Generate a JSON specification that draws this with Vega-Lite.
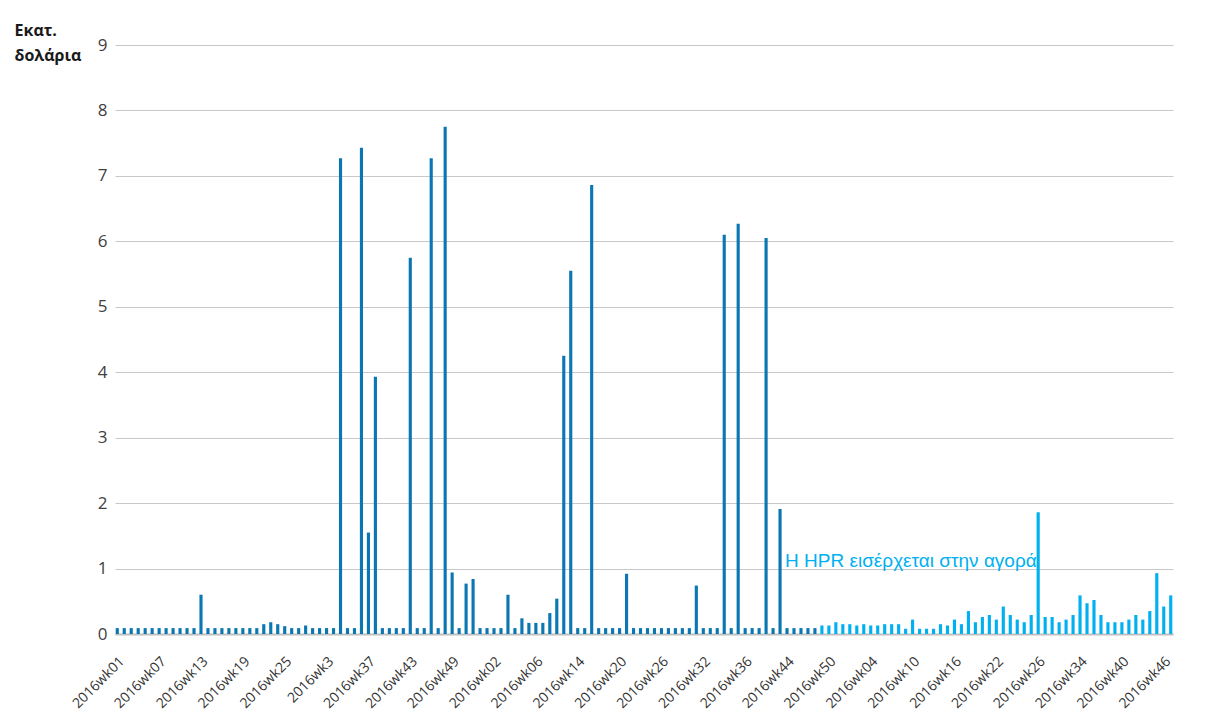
{
  "$schema": "https://vega.github.io/schema/vega-lite/v6.json",
  "width": 1058,
  "height": 589,
  "autosize": {"type": "none"},
  "padding": {"left": 115, "top": 45, "right": 39, "bottom": 86},
  "background": "white",
  "config": {"view": {"stroke": null}, "font": "Open Sans"},
  "data": {"values": [
    {"i":0,"v":0.09,"p":"a"},{"i":1,"v":0.09,"p":"a"},{"i":2,"v":0.09,"p":"a"},{"i":3,"v":0.09,"p":"a"},{"i":4,"v":0.09,"p":"a"},{"i":5,"v":0.09,"p":"a"},
    {"i":6,"v":0.09,"p":"a"},{"i":7,"v":0.09,"p":"a"},{"i":8,"v":0.09,"p":"a"},{"i":9,"v":0.09,"p":"a"},{"i":10,"v":0.09,"p":"a"},{"i":11,"v":0.09,"p":"a"},
    {"i":12,"v":0.6,"p":"a"},{"i":13,"v":0.09,"p":"a"},{"i":14,"v":0.09,"p":"a"},{"i":15,"v":0.09,"p":"a"},{"i":16,"v":0.09,"p":"a"},{"i":17,"v":0.09,"p":"a"},
    {"i":18,"v":0.09,"p":"a"},{"i":19,"v":0.09,"p":"a"},{"i":20,"v":0.09,"p":"a"},{"i":21,"v":0.15,"p":"a"},{"i":22,"v":0.18,"p":"a"},{"i":23,"v":0.15,"p":"a"},
    {"i":24,"v":0.12,"p":"a"},{"i":25,"v":0.09,"p":"a"},{"i":26,"v":0.09,"p":"a"},{"i":27,"v":0.13,"p":"a"},{"i":28,"v":0.09,"p":"a"},{"i":29,"v":0.09,"p":"a"},
    {"i":30,"v":0.09,"p":"a"},{"i":31,"v":0.09,"p":"a"},{"i":32,"v":7.27,"p":"a"},{"i":33,"v":0.09,"p":"a"},{"i":34,"v":0.09,"p":"a"},{"i":35,"v":7.43,"p":"a"},
    {"i":36,"v":1.55,"p":"a"},{"i":37,"v":3.93,"p":"a"},{"i":38,"v":0.09,"p":"a"},{"i":39,"v":0.09,"p":"a"},{"i":40,"v":0.09,"p":"a"},{"i":41,"v":0.09,"p":"a"},
    {"i":42,"v":5.75,"p":"a"},{"i":43,"v":0.09,"p":"a"},{"i":44,"v":0.09,"p":"a"},{"i":45,"v":7.27,"p":"a"},{"i":46,"v":0.09,"p":"a"},{"i":47,"v":7.75,"p":"a"},
    {"i":48,"v":0.94,"p":"a"},{"i":49,"v":0.09,"p":"a"},{"i":50,"v":0.77,"p":"a"},{"i":51,"v":0.84,"p":"a"},{"i":52,"v":0.09,"p":"a"},{"i":53,"v":0.09,"p":"a"},
    {"i":54,"v":0.09,"p":"a"},{"i":55,"v":0.09,"p":"a"},{"i":56,"v":0.6,"p":"a"},{"i":57,"v":0.09,"p":"a"},{"i":58,"v":0.24,"p":"a"},{"i":59,"v":0.17,"p":"a"},
    {"i":60,"v":0.17,"p":"a"},{"i":61,"v":0.17,"p":"a"},{"i":62,"v":0.32,"p":"a"},{"i":63,"v":0.54,"p":"a"},{"i":64,"v":4.25,"p":"a"},{"i":65,"v":5.55,"p":"a"},
    {"i":66,"v":0.09,"p":"a"},{"i":67,"v":0.09,"p":"a"},{"i":68,"v":6.86,"p":"a"},{"i":69,"v":0.09,"p":"a"},{"i":70,"v":0.09,"p":"a"},{"i":71,"v":0.09,"p":"a"},
    {"i":72,"v":0.09,"p":"a"},{"i":73,"v":0.92,"p":"a"},{"i":74,"v":0.09,"p":"a"},{"i":75,"v":0.09,"p":"a"},{"i":76,"v":0.09,"p":"a"},{"i":77,"v":0.09,"p":"a"},
    {"i":78,"v":0.09,"p":"a"},{"i":79,"v":0.09,"p":"a"},{"i":80,"v":0.09,"p":"a"},{"i":81,"v":0.09,"p":"a"},{"i":82,"v":0.09,"p":"a"},{"i":83,"v":0.74,"p":"a"},
    {"i":84,"v":0.09,"p":"a"},{"i":85,"v":0.09,"p":"a"},{"i":86,"v":0.09,"p":"a"},{"i":87,"v":6.1,"p":"a"},{"i":88,"v":0.09,"p":"a"},{"i":89,"v":6.27,"p":"a"},
    {"i":90,"v":0.09,"p":"a"},{"i":91,"v":0.09,"p":"a"},{"i":92,"v":0.09,"p":"a"},{"i":93,"v":6.05,"p":"a"},{"i":94,"v":0.09,"p":"a"},{"i":95,"v":1.91,"p":"a","t":"Η HPR εισέρχεται στην αγορά"},
    {"i":96,"v":0.09,"p":"a"},{"i":97,"v":0.09,"p":"a"},{"i":98,"v":0.09,"p":"a"},{"i":99,"v":0.09,"p":"a"},{"i":100,"v":0.09,"p":"a"},
    {"i":101,"v":0.13,"p":"b"},{"i":102,"v":0.13,"p":"b"},{"i":103,"v":0.18,"p":"b"},{"i":104,"v":0.15,"p":"b"},{"i":105,"v":0.15,"p":"b"},{"i":106,"v":0.13,"p":"b"},
    {"i":107,"v":0.15,"p":"b"},{"i":108,"v":0.13,"p":"b"},{"i":109,"v":0.13,"p":"b"},{"i":110,"v":0.15,"p":"b"},{"i":111,"v":0.15,"p":"b"},{"i":112,"v":0.15,"p":"b"},
    {"i":113,"v":0.08,"p":"b"},{"i":114,"v":0.22,"p":"b"},{"i":115,"v":0.08,"p":"b"},{"i":116,"v":0.08,"p":"b"},{"i":117,"v":0.08,"p":"b"},{"i":118,"v":0.15,"p":"b"},
    {"i":119,"v":0.13,"p":"b"},{"i":120,"v":0.22,"p":"b"},{"i":121,"v":0.15,"p":"b"},{"i":122,"v":0.35,"p":"b"},{"i":123,"v":0.18,"p":"b"},{"i":124,"v":0.26,"p":"b"},
    {"i":125,"v":0.29,"p":"b"},{"i":126,"v":0.22,"p":"b"},{"i":127,"v":0.42,"p":"b"},{"i":128,"v":0.29,"p":"b"},{"i":129,"v":0.22,"p":"b"},{"i":130,"v":0.18,"p":"b"},
    {"i":131,"v":0.29,"p":"b"},{"i":132,"v":1.86,"p":"b"},{"i":133,"v":0.26,"p":"b"},{"i":134,"v":0.26,"p":"b"},{"i":135,"v":0.18,"p":"b"},{"i":136,"v":0.22,"p":"b"},
    {"i":137,"v":0.29,"p":"b"},{"i":138,"v":0.59,"p":"b"},{"i":139,"v":0.47,"p":"b"},{"i":140,"v":0.52,"p":"b"},{"i":141,"v":0.29,"p":"b"},{"i":142,"v":0.18,"p":"b"},
    {"i":143,"v":0.18,"p":"b"},{"i":144,"v":0.18,"p":"b"},{"i":145,"v":0.22,"p":"b"},{"i":146,"v":0.29,"p":"b"},{"i":147,"v":0.22,"p":"b"},{"i":148,"v":0.35,"p":"b"},
    {"i":149,"v":0.93,"p":"b"},{"i":150,"v":0.42,"p":"b"},{"i":151,"v":0.59,"p":"b"}
  ]},
  "layer": [
    {
      "mark": {"type": "bar"},
      "encoding": {
        "x": {
          "field": "i", "type": "ordinal",
          "scale": {"paddingInner": 0.55, "paddingOuter": 0.1},
          "axis": {
            "values": [0,6,12,18,24,30,36,42,48,54,60,66,72,78,84,90,96,102,108,114,120,126,132,138,144,150],
            "labelExpr": "['2016wk01','2016wk07','2016wk13','2016wk19','2016wk25','2016wk3','2016wk37','2016wk43','2016wk49','2016wk02','2016wk06','2016wk14','2016wk20','2016wk26','2016wk32','2016wk36','2016wk44','2016wk50','2016wk04','2016wk10','2016wk16','2016wk22','2016wk26','2016wk34','2016wk40','2016wk46'][floor(datum.value/6)]",
            "labelAngle": -45, "labelAlign": "right", "labelBaseline": "top",
            "labelPadding": 20, "labelDx": 0, "labelFontSize": 14, "labelColor": "#333333",
            "labelOverlap": false, "ticks": false, "grid": false,
            "domainColor": "#bfbfbf", "domainWidth": 2, "title": null
          }
        },
        "y": {
          "field": "v", "type": "quantitative",
          "scale": {"domain": [0, 9], "nice": false},
          "axis": {
            "values": [0,1,2,3,4,5,6,7,8,9],
            "format": "d",
            "grid": true, "gridColor": "#c8c8c8", "gridWidth": 1,
            "domain": false, "ticks": false,
            "labelFontSize": 17, "labelColor": "#404040", "labelPadding": 8,
            "title": ["Εκατ.", "δολάρια"],
            "titleAngle": 0, "titleAlign": "left", "titleBaseline": "alphabetic",
            "titleX": -101, "titleY": -10,
            "titleFontSize": 16, "titleFontWeight": "bold", "titleColor": "#1a1a1a",
            "titleLineHeight": 25
          }
        },
        "color": {
          "field": "p", "type": "nominal",
          "scale": {"domain": ["a", "b"], "range": ["#0A77B3", "#00B0F0"]},
          "legend": null
        }
      }
    },
    {
      "transform": [{"filter": "isValid(datum.t)"}],
      "mark": {"type": "text", "align": "left", "baseline": "alphabetic", "dx": 5, "fontSize": 19, "font": "Liberation Sans", "color": "#00B0F0"},
      "encoding": {
        "x": {"field": "i", "type": "ordinal"},
        "y": {"datum": 1.02, "type": "quantitative"},
        "text": {"field": "t"}
      }
    }
  ]
}
